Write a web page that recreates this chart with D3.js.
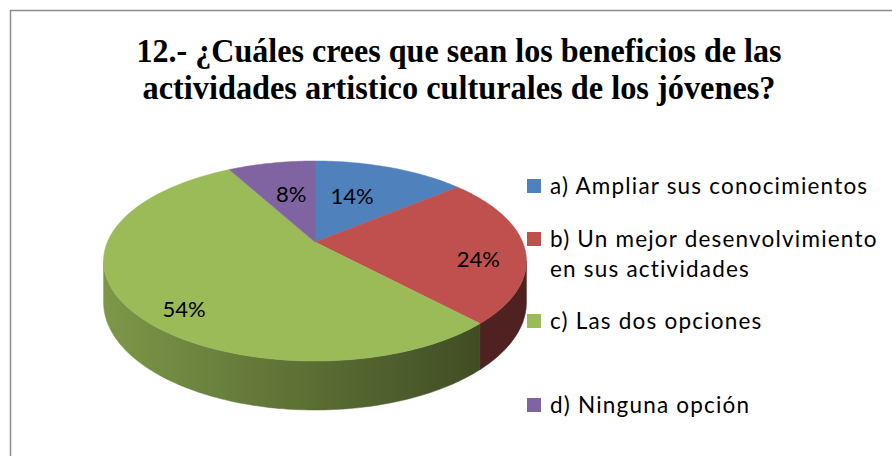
<!DOCTYPE html>
<html>
<head>
<meta charset="utf-8">
<script src="https://cdn.jsdelivr.net/npm/d3@7"></script>
<style>
  body { margin: 0; background: #fff; }
  svg { display: block; }
  .title { font-family: "Liberation Serif", "Times New Roman", Times, serif; font-weight: bold; }
</style>
</head>
<body>
<div id="chart"></div>
<script>
// Data
const categories = [
  "a) Ampliar sus conocimientos",
  "b) Un mejor desenvolvimiento en sus actividades",
  "c) Las dos opciones",
  "d) Ninguna opción"
];
const values = [14, 24, 54, 8];
const colors = ["#4F81BD", "#C0504D", "#9BBB59", "#8064A2"];
const titleLines = [
  "12.- ¿Cuáles crees que sean los beneficios de las",
  "actividades artistico culturales  de los jóvenes?"
];

const W = 892, H = 456;

// pie layout (top face projected with a bit of perspective)
const pie = { px: 315, py: 242, A: 207.6, B: 96.4, k: 0.19, depth: 39.7 };
// label nudges in px from the projected mid point (Excel puts them "best fit")
const labelNudge = [[-11, 2], [38, 13], [-23, 31], [4, 3]];
// legend row centres
const legendY = [186, 239, 321, 405];

const svg = d3.select("#chart").append("svg")
  .attr("width", W)
  .attr("height", H);

const defs = svg.append("defs");

// frame (right and bottom are cut off in the picture)
svg.append("rect")
  .attr("x", 10.5).attr("y", 10.5)
  .attr("width", 900).attr("height", 460)
  .attr("fill", "#fff")
  .attr("stroke", "#8c8c8c")
  .attr("stroke-width", 1.5);

// title
svg.append("g").selectAll("text")
  .data(titleLines)
  .enter().append("text")
  .attr("class", "title")
  .attr("x", 459)
  .attr("y", (d, i) => 62 + i * 37)
  .attr("text-anchor", "middle")
  .attr("textLength", (d, i) => i === 0 ? 645 : 633)
  .attr("lengthAdjust", "spacingAndGlyphs")
  .style("font-size", "34px")
  .text(d => d);

// projection of a point on the pie disk: angle a (0 = top, clockwise), radius r (0..1)
function proj(a, r, down) {
  const u = Math.sin(a) * r;
  const v = -Math.cos(a) * r;
  const w = 1 - pie.k * v;
  return [
    pie.px + pie.A * u / w,
    pie.py + pie.B * v / w + (down ? pie.depth / w : 0)
  ];
}

function arcPts(a0, a1, down) {
  const n = Math.max(2, Math.ceil(Math.abs(a1 - a0) / 0.02));
  return d3.range(n + 1).map(i => proj(a0 + (a1 - a0) * i / n, 1, down));
}

const arcs = d3.pie().sort(null).value(d => d)(values);
const line = d3.line();

// side walls, only the front half is seen
const frontL = Math.acos(-pie.k);          // right extreme
const frontR = 2 * Math.PI - frontL;        // left extreme

const xLeft = proj(frontR, 1)[0];
const xDark = proj(arcs[1].endAngle, 1)[0];

arcs.forEach((d, i) => {
  const g = defs.append("linearGradient")
    .attr("id", "side" + i)
    .attr("gradientUnits", "userSpaceOnUse")
    .attr("x1", xLeft).attr("y1", 0)
    .attr("x2", xDark).attr("y2", 0);
  g.append("stop").attr("offset", 0).attr("stop-color", d3.color(colors[i]).darker(0.6));
  g.append("stop").attr("offset", 1).attr("stop-color", d3.color(colors[i]).darker(2.5));
});

const sides = svg.append("g");
arcs.forEach((d, i) => {
  const a0 = Math.max(d.startAngle, frontL);
  const a1 = Math.min(d.endAngle, frontR);
  if (a1 <= a0) return;
  const top = arcPts(a0, a1, false);
  const bot = arcPts(a0, a1, true).reverse();
  sides.append("path")
    .attr("d", line(top.concat(bot)) + "Z")
    .attr("fill", `url(#side${i})`)
    .attr("stroke", `url(#side${i})`)
    .attr("stroke-width", 0.5);
});

// top face
const topG = svg.append("g");
arcs.forEach((d, i) => {
  const pts = [[pie.px, pie.py]].concat(arcPts(d.startAngle, d.endAngle, false));
  topG.append("path")
    .attr("d", line(pts) + "Z")
    .attr("fill", colors[i])
    .attr("stroke", colors[i])
    .attr("stroke-width", 0.5);
});

// percent labels
svg.append("g").selectAll("text")
  .data(arcs)
  .enter().append("text")
  .attr("x", (d, i) => proj((d.startAngle + d.endAngle) / 2, 0.6)[0] + labelNudge[i][0])
  .attr("y", (d, i) => proj((d.startAngle + d.endAngle) / 2, 0.6)[1] + labelNudge[i][1])
  .attr("dy", "0.36em")
  .attr("text-anchor", "middle")
  .style("font-family", "Lato, 'Open Sans', sans-serif")
  .style("font-size", "22px")
  .style("fill", "#000")
  .text(d => d3.format(".0%")(d.data / d3.sum(values)));

// legend
const legend = svg.append("g");
categories.forEach((c, i) => {
  const y = legendY[i];
  legend.append("rect")
    .attr("x", 527).attr("y", y - 7)
    .attr("width", 14).attr("height", 14)
    .attr("fill", colors[i]);

  const t = legend.append("text")
    .attr("x", 550)
    .attr("y", y + 8)
    .style("font-family", "Lato, 'Open Sans', sans-serif")
    .style("font-size", "22.5px")
    .style("letter-spacing", "1.2px")
    .style("fill", "#000");

  // wrap to the legend width
  const words = c.split(" ");
  let lineWords = [];
  let span = t.append("tspan").attr("x", 550);
  words.forEach(w => {
    lineWords.push(w);
    span.text(lineWords.join(" "));
    if (span.node().getComputedTextLength() > 338 && lineWords.length > 1) {
      lineWords.pop();
      span.text(lineWords.join(" "));
      lineWords = [w];
      span = t.append("tspan").attr("x", 550).attr("dy", 30).text(w);
    }
  });
});
</script>
</body>
</html>
